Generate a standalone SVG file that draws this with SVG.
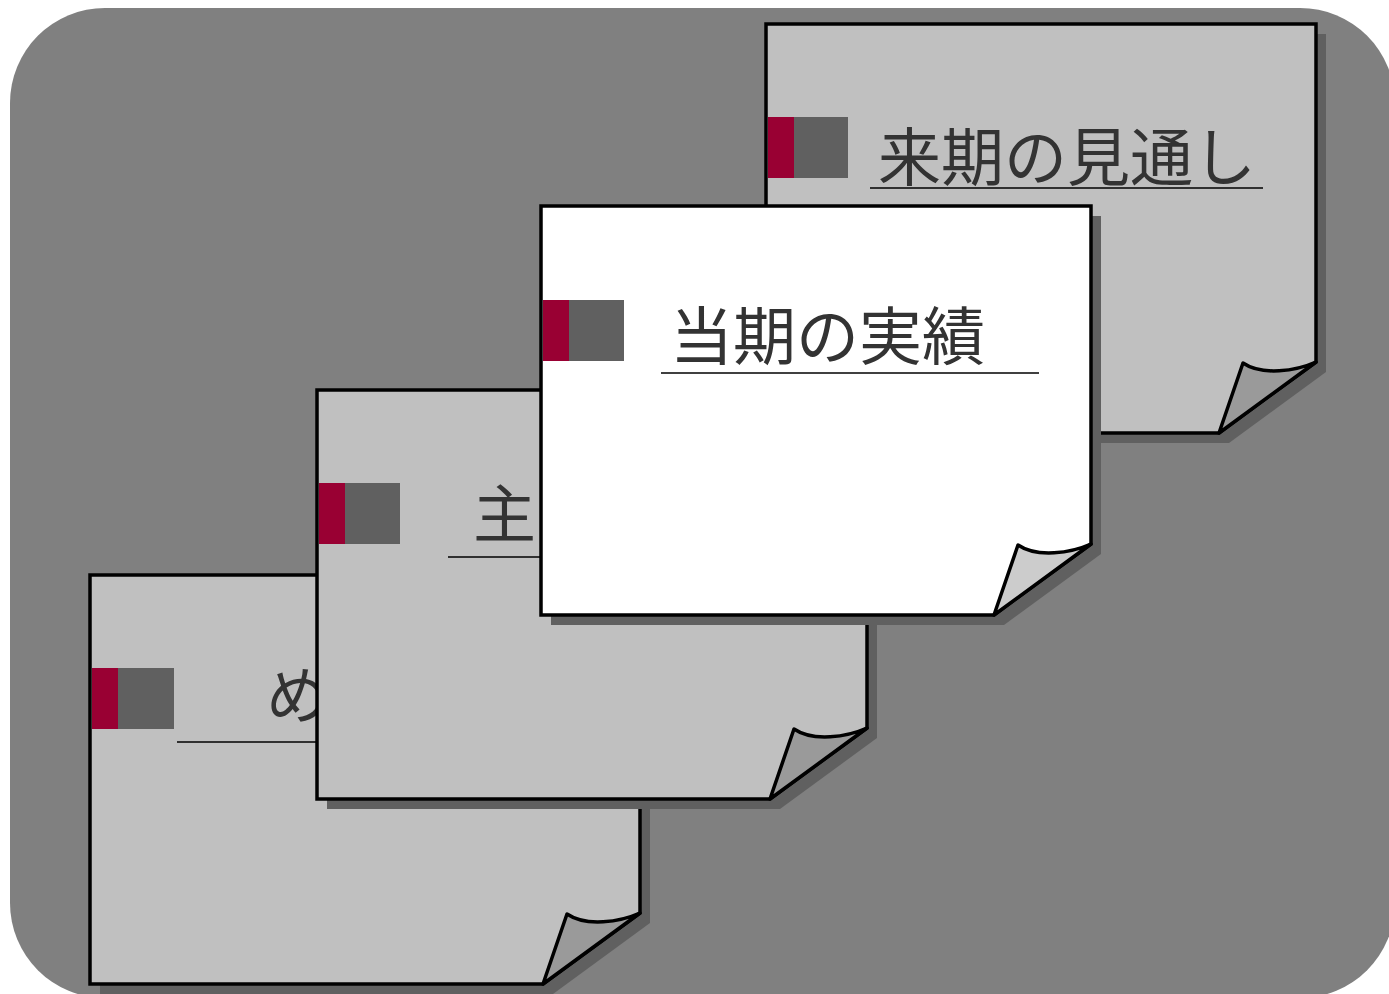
<svg xmlns="http://www.w3.org/2000/svg" width="1389" height="994" viewBox="0 0 1389 994">
  <defs>
    <style>
      .bg { fill: #808080; }
      .shadow { fill: #606060; }
      .body { stroke: #000; stroke-width: 3.5; stroke-linejoin: miter; }
      .gray { fill: #c0c0c0; }
      .white { fill: #ffffff; }
      .flap { stroke: #000; stroke-width: 3.5; stroke-linejoin: round; }
      .flapGray { fill: #9a9a9a; }
      .flapWhite { fill: #cccccc; }
      .red { fill: #990033; }
      .dark { fill: #606060; }
      .uline { stroke: #000; stroke-width: 1.5; }
      .title { font-family: "Noto Sans CJK JP", "Noto Sans CJK SC", sans-serif; font-size: 63px; fill: #333333; }
    </style>
    <path id="outline" d="M0 0 H550 V338 L453 409 H0 Z"/>
    <path id="flapShape" d="M550 338 C530 347 496 352 477 339 L453 409 Z"/>
  </defs>

  <rect class="bg" x="10" y="8" width="1385" height="990" rx="95" ry="95"/>

  <g id="card-1" transform="translate(90,575)">
    <use href="#outline" class="shadow" x="10" y="10"/>
    <use href="#outline" class="body gray"/>
    <use href="#flapShape" class="flap flapGray"/>
    <rect class="red" x="2" y="93" width="26" height="61"/>
    <rect class="dark" x="28" y="93" width="56" height="61"/>
    <line class="uline" x1="87" y1="167" x2="498" y2="167"/>
    <text class="title" x="176" y="143">め</text>
  </g>

  <g id="card-2" transform="translate(317,390)">
    <use href="#outline" class="shadow" x="10" y="10"/>
    <use href="#outline" class="body gray"/>
    <use href="#flapShape" class="flap flapGray"/>
    <rect class="red" x="2" y="93" width="26" height="61"/>
    <rect class="dark" x="28" y="93" width="55" height="61"/>
    <line class="uline" x1="131" y1="167" x2="498" y2="167"/>
    <text class="title" x="156" y="147">主な</text>
  </g>

  <g id="card-4" transform="translate(766,24)">
    <use href="#outline" class="shadow" x="10" y="10"/>
    <use href="#outline" class="body gray"/>
    <use href="#flapShape" class="flap flapGray"/>
    <rect class="red" x="2" y="93" width="26" height="61"/>
    <rect class="dark" x="28" y="93" width="54" height="61"/>
    <line class="uline" x1="104" y1="164" x2="497" y2="164"/>
    <text class="title" x="112" y="156">来期の見通し</text>
  </g>

  <g id="card-3" transform="translate(541,206)">
    <use href="#outline" class="shadow" x="10" y="10"/>
    <use href="#outline" class="body white"/>
    <use href="#flapShape" class="flap flapWhite"/>
    <rect class="red" x="2" y="94" width="26" height="61"/>
    <rect class="dark" x="28" y="94" width="55" height="61"/>
    <line class="uline" x1="120" y1="167" x2="498" y2="167"/>
    <text class="title" x="129" y="153">当期の実績</text>
  </g>

  <g id="connectors"/>
</svg>
